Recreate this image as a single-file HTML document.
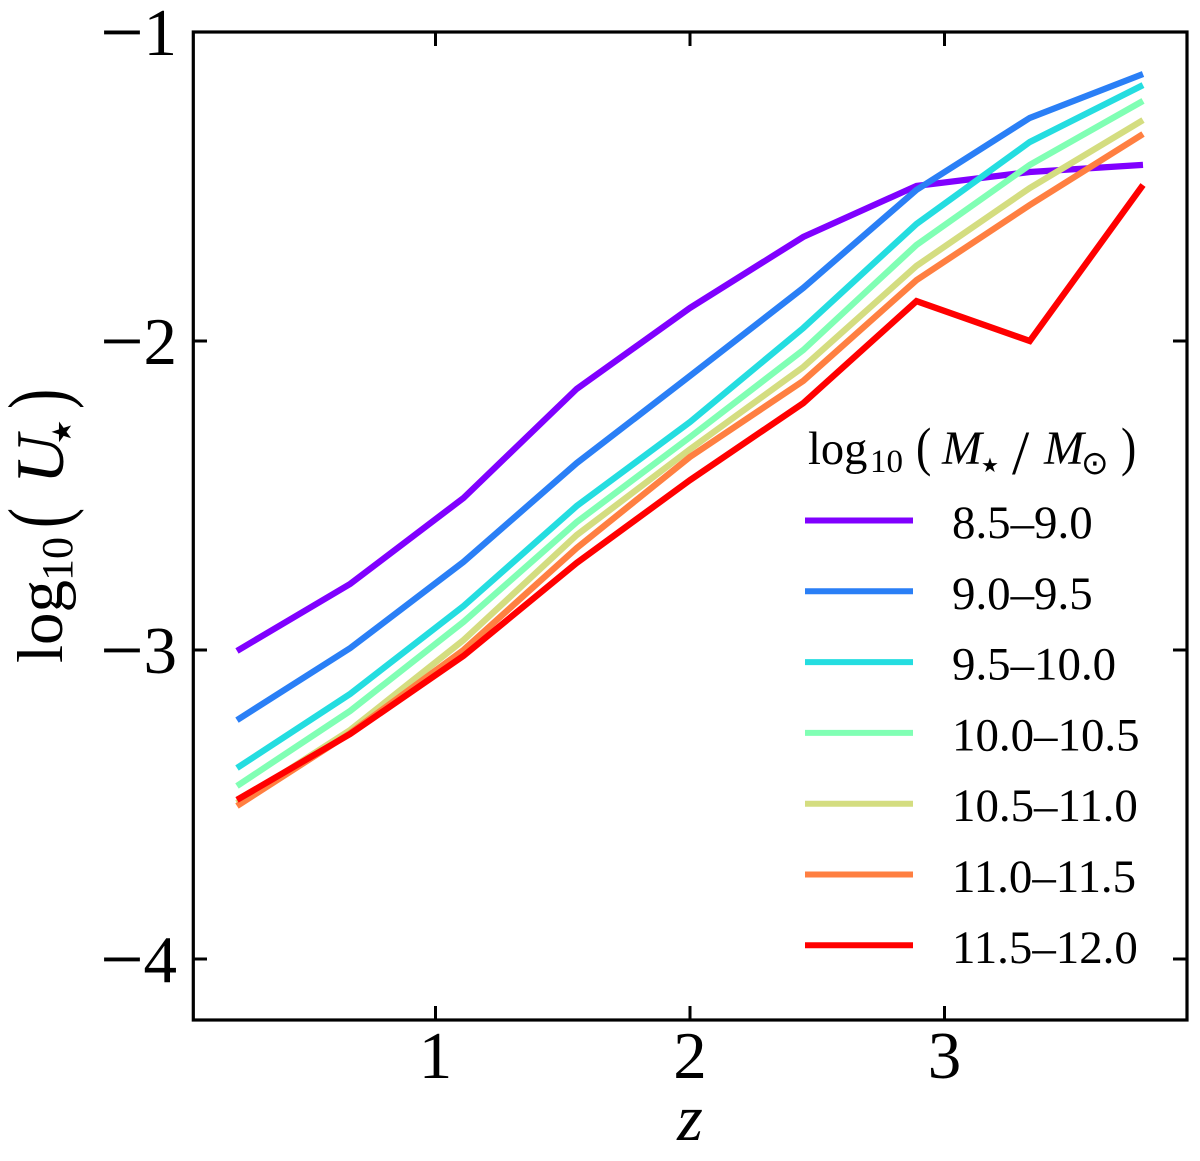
<!DOCTYPE html>
<html lang="en">
<head>
<meta charset="utf-8">
<title>Chart</title>
<style>
html,body{margin:0;padding:0;background:#fff;width:1200px;height:1161px;overflow:hidden}
svg{display:block}
text{font-family:"Liberation Serif",serif;fill:#000}
.sym{font-family:"DejaVu Sans",sans-serif}
</style>
</head>
<body>
<svg id="chart" xmlns="http://www.w3.org/2000/svg" width="1200" height="1161" viewBox="0 0 1200 1161">
  <rect x="0" y="0" width="1200" height="1161" fill="#fff"/>
  <g id="series"></g>
  <g id="ticks"></g>
  <rect x="193.3" y="32" width="993.7" height="988" fill="none" stroke="#000" stroke-width="3.2"/>
  <g id="tick-labels"></g>
  <text x="690" y="1140" font-size="66" font-style="italic" text-anchor="middle">z</text>
  <g transform="translate(62,663) rotate(-90)">
    <text font-size="65" x="0" y="0">log<tspan x="82" y="10" font-size="44">10</tspan><tspan x="179" y="1" font-size="68" font-style="italic">U</tspan><tspan x="219" y="9" font-size="27" class="sym">★</tspan></text>
    <text font-size="84" transform="translate(135,4) scale(0.72,1)">(</text>
    <text font-size="84" transform="translate(254,4) scale(0.72,1)">)</text>
  </g>
  <g id="legend">
    <g>
      <text font-size="46.5" x="808" y="464">log<tspan x="870" y="472" font-size="33">10</tspan><tspan x="942" y="464" font-size="48" font-style="italic">M</tspan><tspan x="981" y="472" font-size="20" class="sym">★</tspan><tspan x="1012" y="474" font-size="62">/</tspan><tspan x="1044" y="464" font-size="48" font-style="italic">M</tspan><tspan x="1081" y="474" font-size="33" class="sym">⊙</tspan></text>
      <text font-size="54" transform="translate(916,465) scale(0.85,1)">(</text>
      <text font-size="54" transform="translate(1121,465) scale(0.85,1)">)</text>
    </g>
  </g>
</svg>
<script>
// Data
const redshifts = [0.22, 0.665, 1.11, 1.555, 2.0, 2.445, 2.89, 3.335, 3.78];
const massBins = ['8.5–9.0', '9.0–9.5', '9.5–10.0', '10.0–10.5', '10.5–11.0', '11.0–11.5', '11.5–12.0'];
const seriesColors = ['#8000ff', '#2a7ff6', '#24dde0', '#80ffb4', '#d4dd80', '#ff7f41', '#ff0000'];
const uBin1 = [-3.003, -2.786, -2.508, -2.155, -1.893, -1.663, -1.498, -1.453, -1.430];
const uBin2 = [-3.227, -2.994, -2.715, -2.395, -2.113, -1.828, -1.511, -1.278, -1.136];
const uBin3 = [-3.382, -3.142, -2.858, -2.534, -2.262, -1.958, -1.621, -1.356, -1.172];
const uBin4 = [-3.440, -3.197, -2.909, -2.586, -2.311, -2.029, -1.689, -1.430, -1.223];
const uBin5 = [-3.495, -3.259, -2.968, -2.628, -2.350, -2.084, -1.757, -1.505, -1.285];
const uBin6 = [-3.505, -3.269, -3.000, -2.670, -2.375, -2.129, -1.803, -1.560, -1.330];
const uBin7 = [-3.485, -3.272, -3.019, -2.718, -2.450, -2.201, -1.871, -2.000, -1.495];
const allSeries = [uBin1, uBin2, uBin3, uBin4, uBin5, uBin6, uBin7];
const xTicks = [1, 2, 3];
const yTicks = [-1, -2, -3, -4];

const NS = 'http://www.w3.org/2000/svg';
function xScale(z) { return 435.5 + (z - 1) * 254.5; }
function yScale(v) { return 32 + (-1 - v) * 309; }
function make(tag, parent, attrs) {
  const el = document.createElementNS(NS, tag);
  for (const k in attrs) el.setAttribute(k, attrs[k]);
  parent.appendChild(el);
  return el;
}

const seriesGroup = document.getElementById('series');
allSeries.forEach(function (vals, i) {
  const pts = vals.map(function (v, j) { return xScale(redshifts[j]).toFixed(1) + ',' + yScale(v).toFixed(1); }).join(' ');
  const line = make('polyline', seriesGroup, { points: pts, fill: 'none', stroke: seriesColors[i], 'stroke-width': 6.3, 'stroke-linejoin': 'miter' });
  
  
});

const tickGroup = document.getElementById('ticks');
const labelGroup = document.getElementById('tick-labels');
xTicks.forEach(function (t) {
  const x = xScale(t);
  const bottom = make('line', tickGroup, { x1: x, x2: x, y1: 1020, y2: 1006, stroke: '#000', 'stroke-width': 3 });
  
  
  const top = make('line', tickGroup, { x1: x, x2: x, y1: 32, y2: 46, stroke: '#000', 'stroke-width': 3 });
  
  
  const label = make('text', labelGroup, { x: x, y: 1078, 'font-size': 67, 'text-anchor': 'middle' });
  
  
  label.textContent = String(t);
});
yTicks.forEach(function (t) {
  const y = yScale(t);
  const left = make('line', tickGroup, { x1: 193, x2: 207, y1: y, y2: y, stroke: '#000', 'stroke-width': 3 });
  
  
  const right = make('line', tickGroup, { x1: 1173, x2: 1187, y1: y, y2: y, stroke: '#000', 'stroke-width': 3 });
  
  
  const label = make('text', labelGroup, { x: 177, y: y + 23, 'font-size': 67, 'text-anchor': 'end' });
  
  
  const minus = make('tspan', label, { 'font-size': 77, dy: 3 });
  minus.textContent = '−';
  const digit = make('tspan', label, { dy: -3 });
  digit.textContent = String(Math.abs(t));
});

const legendGroup = document.getElementById('legend');
massBins.forEach(function (name, i) {
  const y = 520.5 + i * 70.8;
  const swatch = make('line', legendGroup, { x1: 805, x2: 913, y1: y, y2: y, stroke: seriesColors[i], 'stroke-width': 6 });
  
  
  const label = make('text', legendGroup, { x: 952, y: y + 17.5, 'font-size': 46.9 });
  
  
  label.textContent = name;
});
</script>
</body>
</html>
